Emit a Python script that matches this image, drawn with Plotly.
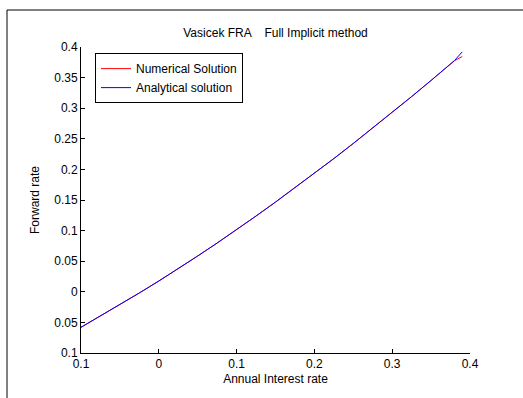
import plotly.graph_objects as go

# data
x_vals = [-0.1, -0.075, -0.05, -0.025, 0.0, 0.025, 0.05, 0.075, 0.1, 0.125, 0.15, 0.175,
          0.2, 0.225, 0.25, 0.275, 0.3, 0.325, 0.35, 0.37, 0.38, 0.39]
numerical = [-0.058, -0.0397, -0.0212, -0.0019, 0.0176, 0.0378, 0.0585, 0.0797, 0.1015, 0.1238,
             0.1466, 0.1698, 0.1935, 0.2177, 0.2424, 0.2675, 0.2930, 0.3190, 0.3454, 0.3668, 0.3775, 0.3845]
analytical = [-0.058, -0.0397, -0.0212, -0.0019, 0.0176, 0.0378, 0.0585, 0.0797, 0.1015, 0.1238,
              0.1466, 0.1698, 0.1935, 0.2177, 0.2424, 0.2675, 0.2930, 0.3190, 0.3454, 0.3668, 0.3778, 0.3920]

x_ticks = [-0.1, 0.0, 0.1, 0.2, 0.3, 0.4]
x_ticklabels = ["0.1", "0", "0.1", "0.2", "0.3", "0.4"]
y_ticks = [-0.1, -0.05, 0.0, 0.05, 0.1, 0.15, 0.2, 0.25, 0.3, 0.35, 0.4]
y_ticklabels = ["0.1", "0.05", "0", "0.05", "0.1", "0.15", "0.2", "0.25", "0.3", "0.35", "0.4"]

font = dict(family="Liberation Sans, Arial, sans-serif", size=12, color="black")

fig = go.Figure()
fig.add_trace(go.Scatter(x=x_vals, y=numerical, mode="lines", name="Numerical Solution",
                         line=dict(color="#ff0000", width=1)))
fig.add_trace(go.Scatter(x=x_vals, y=analytical, mode="lines", name="Analytical solution",
                         line=dict(color="#0000ff", width=1)))

fig.update_layout(
    width=523, height=398,
    margin=dict(l=81, r=53, t=47, b=45),
    paper_bgcolor="white", plot_bgcolor="white",
    font=font,
    title=dict(text="Vasicek FRA    Full Implicit method", x=(81 + 470) / 2 / 523, xanchor="center",
               y=1 - 33 / 398, yanchor="middle", font=font),
    legend=dict(x=0.036, y=0.98, xanchor="left", yanchor="top", bgcolor="white",
                bordercolor="black", borderwidth=1, font=font,
                tracegroupgap=0, itemwidth=30),
    showlegend=True,
)
fig.update_xaxes(range=[-0.1, 0.4], tickvals=x_ticks, ticktext=x_ticklabels,
                 showgrid=False, zeroline=False, showline=True, linecolor="black", linewidth=1,
                 ticks="inside", ticklen=4, tickcolor="black",
                 title=dict(text="Annual Interest rate", font=font, standoff=4))
fig.update_yaxes(range=[-0.1, 0.4], tickvals=y_ticks, ticktext=y_ticklabels,
                 showgrid=False, zeroline=False, showline=True, linecolor="black", linewidth=1,
                 ticks="inside", ticklen=4, tickcolor="black",
                 title=dict(text="Forward rate", font=font, standoff=12))

# figure frame (top and left edges visible)
px_l, px_r, py_t, py_b = 81, 470, 47, 353
def xp(px):
    return (px - px_l) / (px_r - px_l)
def yp(py):
    return (py_b - py) / (py_b - py_t)
fig.add_shape(type="line", xref="paper", yref="paper", x0=xp(7), x1=xp(530), y0=yp(10), y1=yp(10),
              line=dict(color="black", width=1))
fig.add_shape(type="line", xref="paper", yref="paper", x0=xp(7), x1=xp(7), y0=yp(10), y1=yp(405),
              line=dict(color="black", width=1))

fig.write_html("out.html")
